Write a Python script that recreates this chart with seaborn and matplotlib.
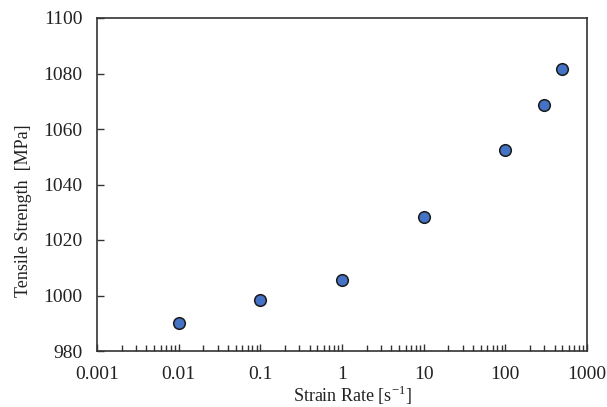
import matplotlib
matplotlib.use("Agg")
import matplotlib.pyplot as plt
import matplotlib.ticker as mticker
import seaborn as sns
import pandas as pd

strain_rate = [0.01, 0.1, 1, 10, 100, 300, 500]
tensile_strength = [990.0, 998.5, 1005.5, 1028.3, 1052.5, 1068.5, 1081.5]
x_ticks = [0.001, 0.01, 0.1, 1, 10, 100, 1000]
x_tick_labels = ["0.001", "0.01", "0.1", "1", "10", "100", "1000"]
y_ticks = [980, 1000, 1020, 1040, 1060, 1080, 1100]

sns.set_style("ticks")
plt.rcParams["font.family"] = ["Liberation Serif", "DejaVu Serif"]
plt.rcParams["mathtext.fontset"] = "custom"
plt.rcParams["mathtext.rm"] = "Liberation Serif"

df = pd.DataFrame({"rate": strain_rate, "strength": tensile_strength})

fig = plt.figure(figsize=(6.07, 4.07), dpi=100)
ax = fig.add_axes([97/607, 1 - 351/407, (587 - 97)/607, (351 - 18)/407])

sns.scatterplot(data=df, x="rate", y="strength", ax=ax, s=70,
                color="#4472C4", edgecolor="#1a1a1a", linewidth=1.1, zorder=3)

ax.set_xscale("log")
ax.set_xlim(0.001, 1000)
ax.set_ylim(980, 1100)
ax.set_xticks(x_ticks)
ax.set_xticklabels(x_tick_labels)
ax.xaxis.set_minor_locator(mticker.LogLocator(base=10, subs=range(2, 10), numticks=20))
ax.xaxis.set_minor_formatter(mticker.NullFormatter())
ax.set_yticks(y_ticks)

ax.tick_params(axis="both", which="major", direction="in", length=5, width=1,
               labelsize=14, color="#333333", labelcolor="#222222")
ax.tick_params(axis="y", which="major", pad=10.5)
ax.tick_params(axis="x", which="major", pad=11)
ax.tick_params(axis="x", which="minor", direction="in", length=4, width=1, color="#333333")
ax.tick_params(axis="y", which="minor", left=False)

for sp in ax.spines.values():
    sp.set_visible(True)
    sp.set_color("#333333")
    sp.set_linewidth(1.2)

ax.set_xlabel("Strain Rate [s$^{\\mathregular{-1}}$]", fontsize=13, color="#222222")
ax.set_ylabel("Tensile Strength  [MPa]", fontsize=13, color="#222222")
ax.xaxis.set_label_coords(0.521, -0.098)
ax.yaxis.set_label_coords(-0.133, 0.42)

fig.savefig("out.png", dpi=100)
